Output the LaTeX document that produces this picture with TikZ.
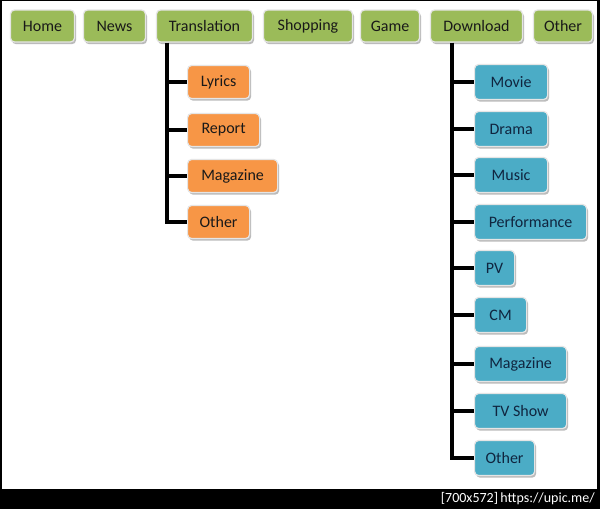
\documentclass[tikz,border=0pt]{standalone}
\usepackage{fontspec}
\setmainfont{Carlito}
\usetikzlibrary{shadows,calc}
\definecolor{grn}{HTML}{9BBB59}
\definecolor{org}{HTML}{F79646}
\definecolor{blu}{HTML}{4BACC6}
\definecolor{navy}{HTML}{10253F}
\definecolor{shd}{HTML}{B0B0B0}
\tikzset{
  box/.style={rounded corners=4pt, draw=white!90!black, line width=1.2pt,
    inner sep=0pt, font=\fontsize{16}{18}\selectfont,
    drop shadow={shadow xshift=1.5pt, shadow yshift=-2.2pt, fill=shd, opacity=0.85}},
  topbox/.style={box, fill=grn, text=black!90, minimum height=32pt},
  obox/.style={box, fill=org, text=black!90, minimum height=33pt, anchor=west},
  bbox/.style={box, fill=blu, text=navy, minimum height=35pt, anchor=west},
  conn/.style={line width=3.2pt, black}
}
\begin{document}
\begin{tikzpicture}[x=1pt,y=-1pt]
\useasboundingbox (0,0) rectangle (600,509);
\fill[black] (0,0) rectangle (600,509);
\fill[white] (2,1) rectangle (597,489);
% top menu
\node[topbox, minimum width=64pt] (home) at (42.5,26) {Home};
\node[topbox, minimum width=62pt] (news) at (114.5,26) {News};
\node[topbox, minimum width=96pt] (trans) at (204.5,26) {Translation};
\node[topbox, minimum width=89pt] (shop) at (308,26) {Shopping};
\node[topbox, minimum width=59pt] (game) at (390,26) {Game};
\node[topbox, minimum width=92pt] (down) at (476.5,26) {Download};
\node[topbox, minimum width=59pt] (other) at (563,26) {Other};
% translation children
\node[obox, minimum width=62pt] (lyr) at (187,82) {Lyrics};
\node[obox, minimum width=72pt] (rep) at (187,130) {Report};
\node[obox, minimum width=90pt] (mag) at (187,176) {Magazine};
\node[obox, minimum width=62pt] (toth) at (187,222) {Other};
% download children
\node[bbox, minimum width=73pt] (mov) at (474,82) {Movie};
\node[bbox, minimum width=73pt] (dra) at (474,129) {Drama};
\node[bbox, minimum width=73pt] (mus) at (474,175) {Music};
\node[bbox, minimum width=112pt] (perf) at (474,222) {Performance};
\node[bbox, minimum width=40pt] (pv) at (474,268) {PV};
\node[bbox, minimum width=52pt] (cm) at (474,315) {CM};
\node[bbox, minimum width=92pt] (dmag) at (474,364) {Magazine};
\node[bbox, minimum width=92pt] (tv) at (474,411) {TV Show};
\node[bbox, minimum width=60pt] (doth) at (474,458) {Other};
% connectors
\coordinate (tt) at ($(trans.south west)+(11,0)$);
\draw[conn] (tt) |- (toth.west);
\foreach \n in {lyr,rep,mag}{\draw[conn] (tt |- \n.west) -- (\n.west);}
\coordinate (dt) at ($(down.south west)+(22,0)$);
\draw[conn] (dt) |- (doth.west);
\foreach \n in {mov,dra,mus,perf,pv,cm,dmag,tv}{\draw[conn] (dt |- \n.west) -- (\n.west);}
% watermark
\node[anchor=east, text=white, font=\fontsize{14}{16}\selectfont, inner sep=0pt] (wm) at (595,499) {[700x572]\,https://upic.me/};
\end{tikzpicture}
\end{document}
